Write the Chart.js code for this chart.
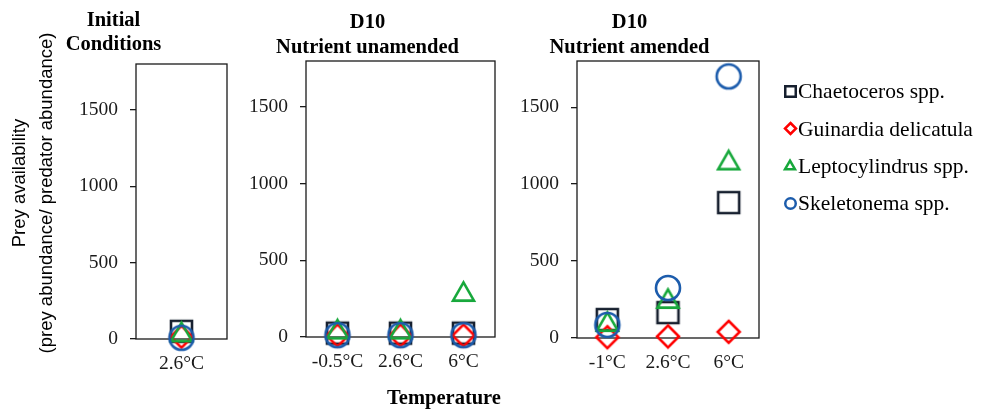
<!DOCTYPE html>
<html>
<head>
<meta charset="utf-8">
<script src="https://cdn.jsdelivr.net/npm/chart.js@4.4.0/dist/chart.umd.min.js"></script>
<style>
  html, body { margin: 0; padding: 0; background: #fff; }
  #wrap { position: relative; width: 991px; height: 412px; overflow: hidden; }
  canvas { position: absolute; top: 0; }
</style>
</head>
<body>
<div id="wrap">
  <canvas id="initial" width="240" height="412" style="left:0"></canvas>
  <canvas id="unamended" width="275" height="412" style="left:240px"></canvas>
  <canvas id="amended" width="491" height="412" style="left:500px"></canvas>
</div>
<script>
// temperatures on the x axis of each panel
const initialTemps = ['2.6°C'];
const unamendedTemps = ['-0.5°C', '2.6°C', '6°C'];
const amendedTemps = ['-1°C', '2.6°C', '6°C'];

const speciesNames = ['Chaetoceros spp.', 'Guinardia delicatula', 'Leptocylindrus spp.', 'Skeletonema spp.'];

// prey availability (prey abundance / predator abundance)
const chaetocerosInitial = [50];
const guinardiaInitial = [15];
const leptocylindrusInitial = [40];
const skeletonemaInitial = [8];

const chaetocerosUnamended = [25, 25, 25];
const guinardiaUnamended = [10, 10, 10];
const leptocylindrusUnamended = [45, 45, 290];
const skeletonemaUnamended = [12, 12, 12];

const chaetocerosAmended = [120, 165, 880];
const guinardiaAmended = [5, 10, 40];
const leptocylindrusAmended = [100, 250, 1150];
const skeletonemaAmended = [85, 325, 1700];

const yTicks = [0, 500, 1000, 1500];
const yMax = 1800;

const serif = '"Liberation Serif", "Times New Roman", serif';
const colors = ['#17202f', '#ff0000', '#17a83b', '#1c5cac'];
const shapes = ['square', 'diamond', 'triangle', 'circle'];

Chart.defaults.font.family = serif;
Chart.defaults.color = '#1a1a1a';

// outline markers drawn on a small canvas so every shape is centred on its value
function makeMarker(shape, size, color, lw) {
  const pad = Math.ceil(lw) + 2;
  const s = Math.ceil(size) + pad * 2;
  const c = document.createElement('canvas');
  c.width = s; c.height = s;
  const g = c.getContext('2d');
  g.strokeStyle = color;
  g.lineWidth = lw;
  const m = s / 2, h = size / 2;
  g.beginPath();
  if (shape === 'square') {
    g.rect(m - h, m - h, size, size);
  } else if (shape === 'diamond') {
    g.moveTo(m, m - h); g.lineTo(m + h, m); g.lineTo(m, m + h); g.lineTo(m - h, m); g.closePath();
  } else if (shape === 'triangle') {
    const th = size * 0.87;
    g.moveTo(m, m - th / 2 - 1); g.lineTo(m + h, m + th / 2 - 1); g.lineTo(m - h, m + th / 2 - 1); g.closePath();
  } else {
    g.arc(m, m, h, 0, Math.PI * 2);
  }
  g.stroke();
  return c;
}

const markerSizes = [21, 22, 21, 24];
const legendSizes = [10.5, 11, 10, 10.5];
const pointMarkers = shapes.map((s, i) => makeMarker(s, markerSizes[i], colors[i], 2.6));
const legendMarkers = shapes.map((s, i) => makeMarker(s, legendSizes[i], colors[i], 2.5));

const framePlugin = {
  id: 'frame',
  beforeDatasetsDraw(chart) {
    const { ctx, chartArea: a } = chart;
    ctx.save();
    ctx.strokeStyle = '#1a1a1a';
    ctx.lineWidth = 1.3;
    ctx.strokeRect(a.left, a.top, a.right - a.left, a.bottom - a.top);
    ctx.restore();
  }
};

const yTitlePlugin = {
  id: 'yTitle',
  afterDraw(chart) {
    const ctx = chart.ctx;
    ctx.save();
    ctx.font = '18.5px "Liberation Sans", Arial, sans-serif';
    ctx.fillStyle = '#000';
    ctx.textAlign = 'center';
    ctx.textBaseline = 'middle';
    [['Prey availability', 20, 183], ['(prey abundance/ predator abundance)', 47, 193]].forEach(([t, x, y]) => {
      ctx.save();
      ctx.translate(x, y);
      ctx.rotate(-Math.PI / 2);
      ctx.fillText(t, 0, 0);
      ctx.restore();
    });
    ctx.restore();
  }
};

const xTitlePlugin = {
  id: 'xTitle',
  afterDraw(chart) {
    const ctx = chart.ctx;
    ctx.save();
    ctx.font = 'bold 20.5px ' + serif;
    ctx.fillStyle = '#000';
    ctx.textAlign = 'center';
    ctx.textBaseline = 'middle';
    ctx.fillText('Temperature', 204, 399);
    ctx.restore();
  }
};

const legendPlugin = {
  id: 'sideLegend',
  afterDraw(chart) {
    const ctx = chart.ctx;
    ctx.save();
    ctx.font = '21.5px ' + serif;
    ctx.fillStyle = '#000';
    ctx.textBaseline = 'middle';
    chart.data.datasets.forEach((ds, i) => {
      const y = 91.5 + i * 37.4;
      const m = legendMarkers[i];
      ctx.drawImage(m, Math.round(290 - m.width / 2), Math.round(y - m.height / 2));
      ctx.fillText(ds.label, 298, y + 1);
    });
    ctx.restore();
  }
};

function makeDatasets(series) {
  return series.map((data, i) => ({
    label: speciesNames[i],
    data: data,
    showLine: false,
    pointStyle: pointMarkers[i],
    pointRadius: 12,
    pointHoverRadius: 12,
    clip: false,
    order: 4 - i
  }));
}

function panel(id, labels, series, title, geo, plugins) {
  return new Chart(document.getElementById(id), {
    type: 'line',
    data: { labels: labels, datasets: makeDatasets(series) },
    plugins: [framePlugin].concat(plugins),
    options: {
      responsive: false,
      animation: false,
      events: [],
      layout: { padding: { left: 0, right: geo.padRight, top: 0, bottom: 0 } },
      plugins: {
        legend: { display: false },
        tooltip: { enabled: false },
        title: {
          display: true,
          text: title,
          color: '#000',
          font: { family: serif, size: 20.5, weight: 'bold', lineHeight: 1.2 },
          padding: { top: geo.titleTop, bottom: geo.titleBottom }
        }
      },
      scales: {
        x: {
          type: 'category',
          offset: true,
          grid: { display: false, drawTicks: false },
          border: { display: false },
          ticks: { color: '#1a1a1a', font: { size: 19.5 }, padding: 13 },
          afterFit: s => { s.height = geo.xHeight; }
        },
        y: {
          min: 0,
          max: yMax,
          afterBuildTicks: s => { s.ticks = yTicks.map(v => ({ value: v })); },
          grid: { drawOnChartArea: false, drawTicks: true, tickLength: 6, color: '#1a1a1a', lineWidth: 1.3 },
          border: { display: false },
          ticks: { color: '#1a1a1a', font: { size: 19.5 }, padding: 12, callback: v => String(v) },
          afterFit: s => { s.width = geo.yWidth; }
        }
      }
    }
  });
}

panel('initial', initialTemps,
  [chaetocerosInitial, guinardiaInitial, leptocylindrusInitial, skeletonemaInitial],
  ['Initial', 'Conditions'],
  { yWidth: 136, padRight: 13, titleTop: 8, titleBottom: 6.8, xHeight: 73 },
  [yTitlePlugin]);

panel('unamended', unamendedTemps,
  [chaetocerosUnamended, guinardiaUnamended, leptocylindrusUnamended, skeletonemaUnamended],
  ['D10', 'Nutrient unamended'],
  { yWidth: 66, padRight: 275 - 495 + 240, titleTop: 10.5, titleBottom: 1.3, xHeight: 75 },
  [xTitlePlugin]);

panel('amended', amendedTemps,
  [chaetocerosAmended, guinardiaAmended, leptocylindrusAmended, skeletonemaAmended],
  ['D10', 'Nutrient amended'],
  { yWidth: 77, padRight: 491 - 259, titleTop: 10.5, titleBottom: 1.3, xHeight: 74 },
  [legendPlugin]);
</script>
</body>
</html>
